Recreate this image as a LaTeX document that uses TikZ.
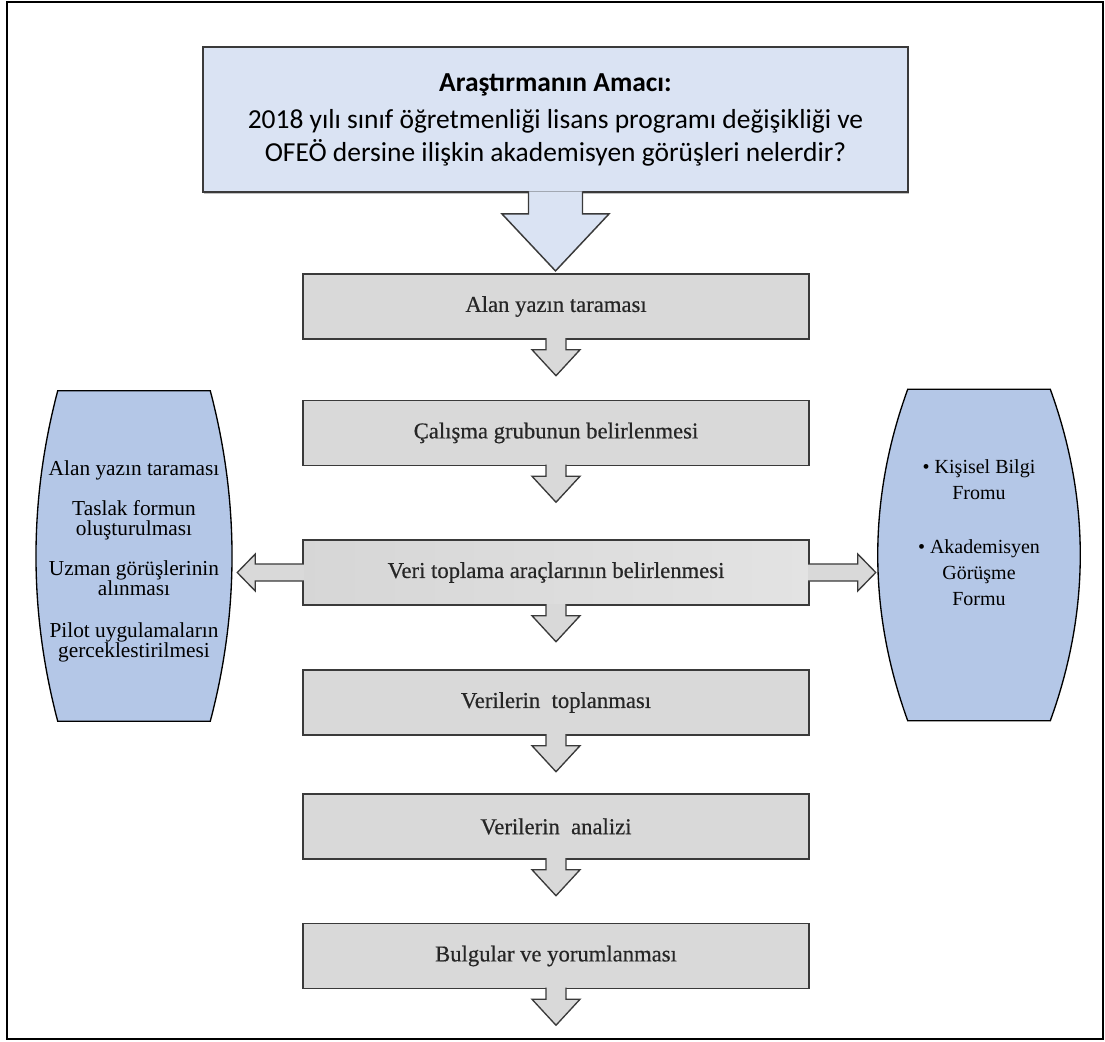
\documentclass[tikz,border=0pt]{standalone}
\usepackage{fontspec}
\setmainfont{Liberation Serif}
\newfontfamily\calibri{Carlito}
\newfontfamily\heavyserif[FakeBold=0.45]{Liberation Serif}
\usetikzlibrary{calc,shadows}
\definecolor{topblue}{HTML}{DAE3F3}
\definecolor{shapeblue}{HTML}{B4C7E7}
\definecolor{boxgray}{HTML}{D9D9D9}
\definecolor{edgegray}{HTML}{3A3A3A}
\definecolor{steptext}{HTML}{262626}
\def\pxu{0.75pt}
\newcommand\blockdown[6]{%
  \filldraw[#6] ($(#1.south)+(-#2,-1.5)$) -- ($(#1.south)+(-#2,#4)$) -- ($(#1.south)+(-#3,#4)$)
    -- ($(#1.south)+(0,#5)$) -- ($(#1.south)+(#3,#4)$) -- ($(#1.south)+(#2,#4)$) -- ($(#1.south)+(#2,-1.5)$);}
\begin{document}
\begin{tikzpicture}[x=0.75pt,y=-0.75pt,
  goalbox/.style={draw=edgegray, line width=1.4pt, fill=topblue, minimum width=705*\pxu, minimum height=145*\pxu, inner sep=0, align=center,
     font=\calibri\fontsize{20.6}{24.75}\selectfont, drop shadow={shadow xshift=0.6pt,shadow yshift=-1.2pt,fill=gray!80,opacity=0.6}},
  stepbox/.style={draw=edgegray, line width=1.1pt, fill=boxgray, minimum width=506*\pxu, minimum height=65*\pxu, inner sep=0,
     font=\heavyserif\fontsize{17}{20}\selectfont, text=steptext},
  blockarrow/.style={draw=edgegray, line width=1pt, fill=boxgray, line join=miter},
  goalarrow/.style={draw=edgegray, line width=1.1pt, fill=topblue, line join=miter},
  barrel/.style={draw=black, line width=1pt, fill=shapeblue}
]
\useasboundingbox (0,0) rectangle (1105,1041);
\fill[white] (0,0) rectangle (1105,1041);
\draw[line width=1.6pt] (7,2) rectangle (1103,1039);

% side shapes (inner flat rectangles as anchors)
\node[inner sep=0, minimum width=152*\pxu, minimum height=330*\pxu] (lshape) at (134,556) {};
\node[inner sep=0, minimum width=142*\pxu, minimum height=331*\pxu] (rshape) at (979,555) {};
\filldraw[barrel] (lshape.north west) -- (lshape.north east)
  .. controls ($(lshape.north east)+(29,110)$) and ($(lshape.south east)+(29,-110)$) .. (lshape.south east)
  -- (lshape.south west)
  .. controls ($(lshape.south west)+(-29,-110)$) and ($(lshape.north west)+(-29,110)$) .. cycle;
\filldraw[barrel] (rshape.north west) -- (rshape.north east)
  .. controls ($(rshape.north east)+(40,110)$) and ($(rshape.south east)+(40,-110)$) .. (rshape.south east)
  -- (rshape.south west)
  .. controls ($(rshape.south west)+(-40,-110)$) and ($(rshape.north west)+(-40,110)$) .. cycle;

\node[align=center, font=\fontsize{16}{15}\selectfont] (ltext) at (134,561)
  {Alan yazın taraması\\[15pt]Taslak formun\\oluşturulması\\[15.5pt]Uzman görüşlerinin\\alınması\\[16pt]Pilot uygulamaların\\gerceklestirilmesi};
\node[align=center, font=\fontsize{15}{19.5}\selectfont] (rtext) at (979,533)
  {• Kişisel Bilgi\\Fromu\\[21pt]• Akademisyen\\Görüşme\\Formu};

% goal box
\node[goalbox] (goal) at (555.5,119.5)
  {\bfseries Araştırmanın Amacı:\\[3pt]2018 yılı sınıf öğretmenliği lisans programı değişikliği ve\\OFEÖ dersine ilişkin akademisyen görüşleri nelerdir?};
\blockdown{goal}{27}{53.5}{21}{78}{goalarrow}

% step boxes
\node[stepbox] (b1) at (556,306.5) {Alan yazın taraması};
\node[stepbox] (b2) at (556,433) {Çalışma grubunun belirlenmesi};
\node[stepbox, shading=axis, left color=gray!32, middle color=gray!6, right color=gray!22, draw=edgegray] (b3) at (556,572.5) {Veri toplama araçlarının belirlenmesi};
\node[stepbox] (b4) at (556,702.5) {Verilerin\ \ toplanması};
\node[stepbox] (b5) at (556,826.5) {Verilerin\ \ analizi};
\node[stepbox] (b6) at (556,956) {Bulgular ve yorumlanması};

\foreach \n in {b1,b2,b3,b4,b5,b6}{\blockdown{\n}{10}{24}{10}{36}{blockarrow}}

% horizontal arrows from b3 to side shapes
\filldraw[blockarrow] ($(b3.west)+(1.5,-8.5)$) -- ($(b3.west)+(-47,-8.5)$) -- ($(b3.west)+(-47,-18.5)$)
  -- ($(b3.west)+(-65,0)$) -- ($(b3.west)+(-47,18.5)$) -- ($(b3.west)+(-47,8.5)$) -- ($(b3.west)+(1.5,8.5)$);
\filldraw[blockarrow] ($(b3.east)+(-1.5,-8.5)$) -- ($(b3.east)+(48,-8.5)$) -- ($(b3.east)+(48,-18.5)$)
  -- ($(b3.east)+(66,0)$) -- ($(b3.east)+(48,18.5)$) -- ($(b3.east)+(48,8.5)$) -- ($(b3.east)+(-1.5,8.5)$);
\end{tikzpicture}
\end{document}
